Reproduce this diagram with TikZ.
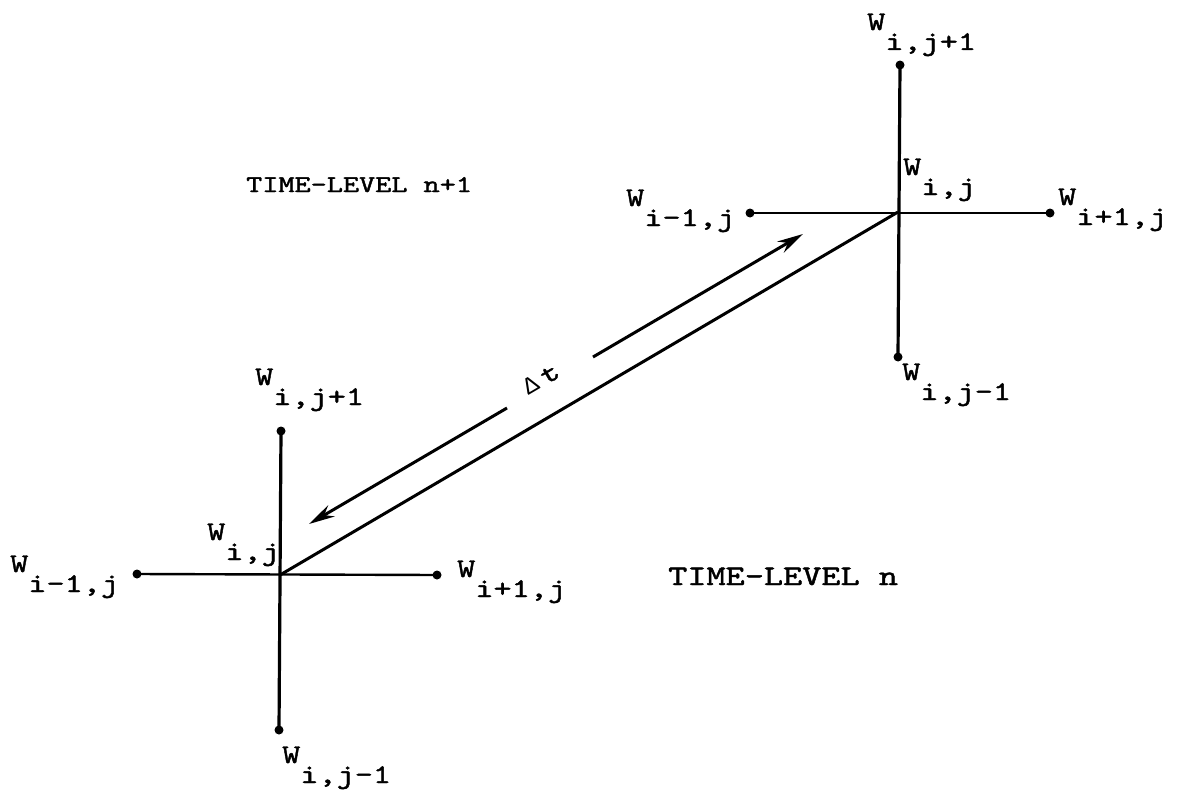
\documentclass[tikz,border=0pt]{standalone}
\usepackage{fontspec}
\newfontfamily\deltafont{Liberation Mono}
\newfontfamily\tw[FakeStretch=1.28,FakeBold=1.6]{lmmono10-regular.otf}
\usetikzlibrary{arrows.meta}
\newcommand\Wlab[1]{W\raisebox{-20pt}{#1}}
\newcommand\twfont[1]{\tw\fontsize{#1}{#1}\selectfont}
\tikzset{
  stencil/.style={line width=3.2pt},
  hline/.style={line width=2.4pt},
  dot/.style={circle,fill=black,inner sep=0pt,minimum size=9pt},
  lab/.style={anchor=base west,inner sep=0pt,font=\twfont{27}},
  timearrow/.style={line width=3pt},
  diag/.style={line width=3pt}
}
\begin{document}
\begin{tikzpicture}[x=1pt,y=-1pt]
\useasboundingbox (0,0) rectangle (1186,795);
% upper stencil (time-level n+1)
\coordinate (U) at (898,212);
\node[dot] (Ut) at (900,65) {};
\node[dot] (Ub) at (898,357) {};
\node[dot] (Ul) at (750,213) {};
\node[dot] (Ur) at (1050,213) {};
\draw[stencil] (Ut.center) -- (Ub.center);
\draw[hline] (Ul.center) -- (Ur.center);
% lower stencil (time-level n)
\coordinate (L) at (280,575);
\node[dot] (Lt) at (281,431) {};
\node[dot] (Lb) at (279,730) {};
\node[dot] (Ll) at (137,574) {};
\node[dot] (Lr) at (437,575) {};
\draw[stencil] (Lt.center) -- (Lb.center);
\draw[hline] (Ll.center) -- (Lr.center);
% diagonal
\draw[diag] (L) -- (U);
% time arrow
\coordinate (Atop) at (803,234);
\coordinate (Abot) at (309,524);
\coordinate (Gup) at (593,357);
\coordinate (Glo) at (507,408);
\draw[timearrow,-{Stealth[length=26pt,width=13pt]}] (Gup) -- (Atop);
\draw[timearrow,-{Stealth[length=26pt,width=13pt]}] (Glo) -- (Abot);
\node[lab,anchor=center,rotate=30.4] (dt) at (541,379) {{\deltafont\fontsize{24}{24}\selectfont Δ}\hspace{6pt}t};
% labels upper
\node[lab] (uT) at (867,30) {\Wlab{i,j+1}};
\node[lab] (uC) at (903,175) {\Wlab{i,j}};
\node[lab] (uL) at (626,206) {\Wlab{i-1,j}};
\node[lab] (uR) at (1058,205) {\Wlab{i+1,j}};
\node[lab] (uB) at (902,380) {\Wlab{i,j-1}};
% labels lower
\node[lab] (lT) at (255,385) {\Wlab{i,j+1}};
\node[lab] (lC) at (207,540) {\Wlab{i,j}};
\node[lab] (lL) at (10,572) {\Wlab{i-1,j}};
\node[lab] (lR) at (457,577) {\Wlab{i+1,j}};
\node[lab] (lB) at (282,763) {\Wlab{i,j-1}};
% time levels
\node[lab,font=\twfont{24}] (tl1) at (246,192) {TIME-LEVEL n+1};
\node[lab,font=\twfont{28.5}] (tl0) at (668,585) {TIME-LEVEL n};
\end{tikzpicture}
\end{document}
